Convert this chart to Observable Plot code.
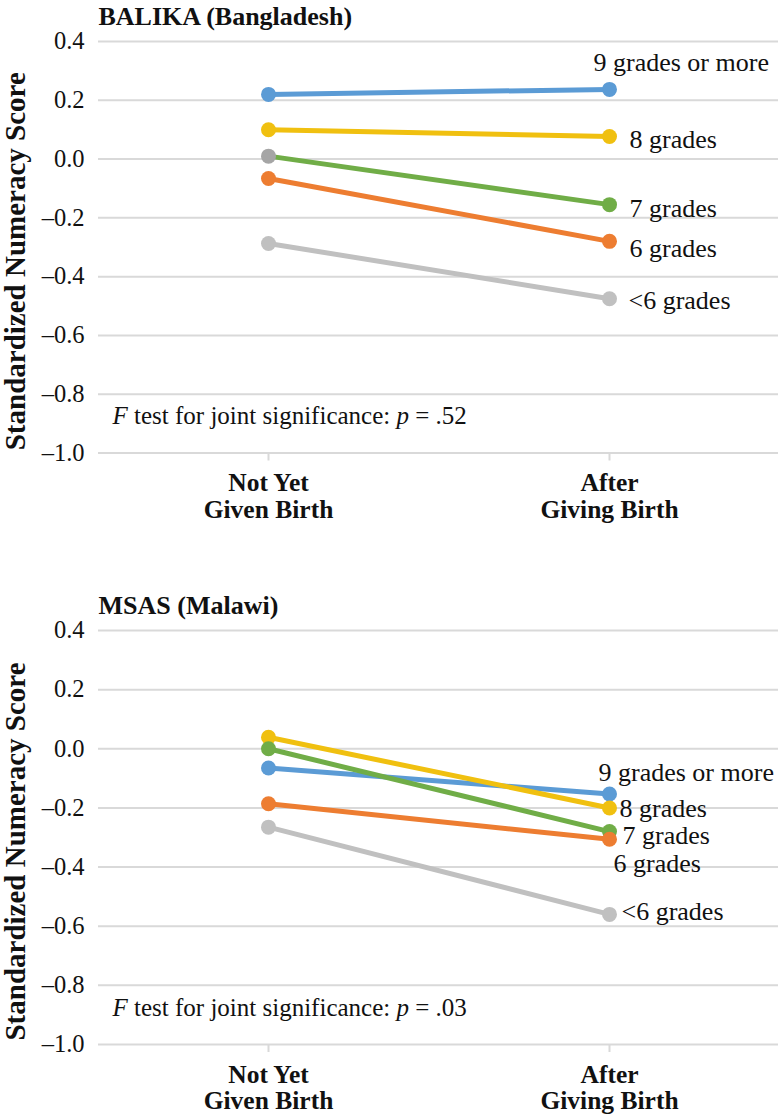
<!DOCTYPE html>
<html>
<head>
<meta charset="utf-8">
<script src="https://cdn.jsdelivr.net/npm/d3@7"></script>
<script src="https://cdn.jsdelivr.net/npm/@observablehq/plot@0.6"></script>
<style>
  html, body { margin: 0; padding: 0; background: white; }
  #wrap { width: 782px; }
  #wrap svg { display: block; overflow: visible; font-family: "Liberation Serif", "DejaVu Serif", serif !important; }
  #wrap svg text { font-family: "Liberation Serif", "DejaVu Serif", serif !important; }
</style>
</head>
<body>
<div id="wrap"></div>
<script>
// ---- data ----
const series = ["9 grades or more", "8 grades", "7 grades", "6 grades", "<6 grades"];
const stages = ["Not Yet\nGiven Birth", "After\nGiving Birth"];
const colors = ["#5b9bd5", "#f0c010", "#70ad47", "#ed7d31", "#c0c0c0"];
const yTicks = [-1.0, -0.8, -0.6, -0.4, -0.2, 0.0, 0.2, 0.4];

const balikaBefore = [0.22, 0.10, 0.01, -0.066, -0.287];
const balikaAfter  = [0.237, 0.077, -0.155, -0.28, -0.475];
const msasBefore   = [-0.065, 0.039, 0.0, -0.186, -0.265];
const msasAfter    = [-0.153, -0.20, -0.28, -0.306, -0.56];

const titles = ["BALIKA (Bangladesh)", "MSAS (Malawi)"];
const pValues = [".52", ".03"];
const yLabel = "Standardized Numeracy Score";

// label offsets (dx, dy) from right-hand dot, per series
const offsets1 = [[-16, -27], [20, 3], [20, 4], [20, 7], [19, 2]];
const offsets2 = [[-11, -21], [10, 1], [13, 4], [4, 24], [12, -3]];

function rows(before, after) {
  return series.flatMap((s, i) => [
    {series: s, stage: stages[0], value: before[i]},
    {series: s, stage: stages[1], value: after[i]}
  ]);
}

const FONT = "Liberation Serif, serif";

function panel({title, before, after, p, height, marginBottom, offsets, grayOverlay}) {
  const data = rows(before, after);
  const right = data.filter(d => d.stage === stages[1]);
  const fmt = d => (d < 0 ? "\u2013" : "") + Math.abs(d).toFixed(1);
  const fillFor = d => (grayOverlay && d.series === series[2] && d.stage === stages[0]) ? "#a5a5a5" : colors[series.indexOf(d.series)];
  const svg = Plot.plot({
    width: 782,
    height,
    marginTop: 41,
    marginLeft: 98,
    marginRight: 4,
    marginBottom,
    style: {fontFamily: FONT, fontSize: "24px", color: "#111", background: "white"},
    x: {type: "point", domain: stages, padding: 0.495},
    y: {domain: [-1.0, 0.4]},
    color: {domain: series, range: colors},
    marks: [
      Plot.gridY(yTicks, {stroke: "#d9d9d9", strokeWidth: 2, strokeOpacity: 1}),
      Plot.axisY(yTicks, {tickSize: 0, tickPadding: 14, tickFormat: fmt, label: null, fontSize: 24.5, fill: "#111"}),
      Plot.axisX({tickSize: 8, tickPadding: 11, stroke: "#d9d9d9", strokeWidth: 2, fill: "#111",
                  fontSize: 25.5, fontWeight: "bold", lineHeight: 1.05, label: null}),
      Plot.line(data, {x: "stage", y: "value", z: "series", stroke: "series", strokeWidth: 5}),
      Plot.dot(data, {x: "stage", y: "value", r: 7.5, fill: fillFor, stroke: null}),
      ...series.map((s, i) => Plot.text(right.filter(d => d.series === s), {
        x: "stage", y: "value", text: "series", textAnchor: "start", lineAnchor: "middle",
        dx: offsets[i][0], dy: offsets[i][1], fontSize: 26, fill: "#111"
      })),
      Plot.text([title], {frameAnchor: "top-left", dy: -25, textAnchor: "start", lineAnchor: "middle",
                          fontWeight: "bold", fontSize: 26, fill: "#111"}),
      Plot.text([yLabel], {frameAnchor: "left", rotate: -90, dx: -83, dy: 14, textAnchor: "middle",
                           lineAnchor: "middle", fontWeight: "bold", fontSize: 29, fill: "#111"}),
      Plot.text(["F test for joint significance: p = " + p], {frameAnchor: "bottom-left", dx: 14, dy: -37,
                 textAnchor: "start", lineAnchor: "middle", fontSize: 25, fill: "#111"})
    ]
  });
  // italicize F and p
  svg.querySelectorAll("text").forEach(t => {
    if (t.textContent.startsWith("F test for joint")) {
      t.innerHTML = '<tspan font-style="italic">F</tspan> test for joint significance: <tspan font-style="italic">p</tspan> = ' + p;
    }
  });
  return svg;
}

const wrap = document.getElementById("wrap");
const p1 = panel({title: titles[0], before: balikaBefore, after: balikaAfter, p: pValues[0],
                  height: 534, marginBottom: 81.5, offsets: offsets1, grayOverlay: true});
const p2 = panel({title: titles[1], before: msasBefore, after: msasAfter, p: pValues[1],
                  height: 528, marginBottom: 73, offsets: offsets2, grayOverlay: false});
p2.style.marginTop = "55px";
wrap.appendChild(p1);
wrap.appendChild(p2);
</script>
</body>
</html>
